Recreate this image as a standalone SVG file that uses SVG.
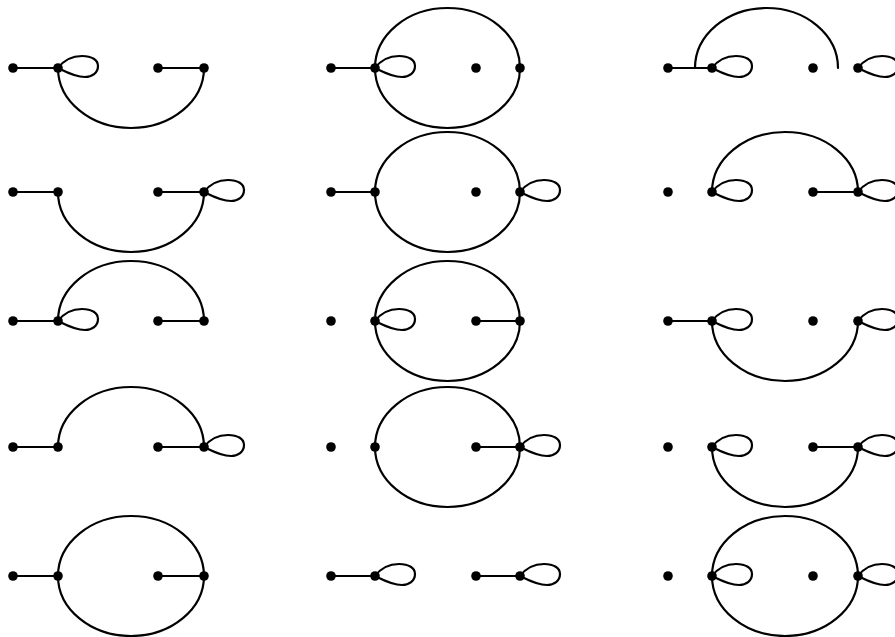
<svg xmlns="http://www.w3.org/2000/svg" width="895" height="637" viewBox="0 0 895 637">
<style>
.e{fill:none;stroke:#000;stroke-width:2.2;stroke-linecap:round}
.n{fill:#000}
</style>
<defs>
<path id="loop" class="e" d="M0,0 C6,-8 14,-12 24,-12 C34,-12 40,-8 40,-2 C40,5 34,9 27,9 C17,9 8,4 0,0 Z"/>
<circle id="dot" class="n" r="4.8"/>
</defs>
<rect width="895" height="637" fill="#fff"/>
<g id="connectors">
<!-- row 1 -->
<g id="c-r1c1">
<path class="e" d="M13,68 H58 M158,68 H204"/>
<use href="#loop" x="58" y="68"/>
<path class="e" d="M58,68 A73,60 0 0 0 204,68"/>
</g>
<g id="c-r1c2">
<path class="e" d="M331,68 H375"/>
<use href="#loop" x="375" y="68"/>
<ellipse class="e" cx="447.5" cy="68" rx="72.5" ry="60"/>
</g>
<g id="c-r1c3">
<path class="e" d="M668,68 H712"/>
<use href="#loop" x="712" y="68"/>
<path class="e" d="M695,68 A71.5,60 0 0 1 838,68"/>
<use href="#loop" x="858" y="68"/>
</g>
<!-- row 2 -->
<g id="c-r2c1">
<path class="e" d="M13,192 H58 M158,192 H204"/>
<use href="#loop" x="204" y="192"/>
<path class="e" d="M58,192 A73,60 0 0 0 204,192"/>
</g>
<g id="c-r2c2">
<path class="e" d="M331,192 H375"/>
<ellipse class="e" cx="447.5" cy="192" rx="72.5" ry="60"/>
<use href="#loop" x="520" y="192"/>
</g>
<g id="c-r2c3">
<use href="#loop" x="712" y="192"/>
<path class="e" d="M712,192 A73,60 0 0 1 858,192"/>
<path class="e" d="M813,192 H858"/>
<use href="#loop" x="858" y="192"/>
</g>
<!-- row 3 -->
<g id="c-r3c1">
<path class="e" d="M13,321 H58 M158,321 H204"/>
<use href="#loop" x="58" y="321"/>
<path class="e" d="M58,321 A73,60 0 0 1 204,321"/>
</g>
<g id="c-r3c2">
<use href="#loop" x="375" y="321"/>
<ellipse class="e" cx="447.5" cy="321" rx="72.5" ry="60"/>
<path class="e" d="M476,321 H520"/>
</g>
<g id="c-r3c3">
<path class="e" d="M668,321 H712"/>
<use href="#loop" x="712" y="321"/>
<path class="e" d="M712,321 A73,60 0 0 0 858,321"/>
<use href="#loop" x="858" y="321"/>
</g>
<!-- row 4 -->
<g id="c-r4c1">
<path class="e" d="M13,447 H58 M158,447 H204"/>
<path class="e" d="M58,447 A73,60 0 0 1 204,447"/>
<use href="#loop" x="204" y="447"/>
</g>
<g id="c-r4c2">
<ellipse class="e" cx="447.5" cy="447" rx="72.5" ry="60"/>
<path class="e" d="M476,447 H520"/>
<use href="#loop" x="520" y="447"/>
</g>
<g id="c-r4c3">
<use href="#loop" x="712" y="447"/>
<path class="e" d="M712,447 A73,60 0 0 0 858,447"/>
<path class="e" d="M813,447 H858"/>
<use href="#loop" x="858" y="447"/>
</g>
<!-- row 5 -->
<g id="c-r5c1">
<path class="e" d="M13,576 H58 M158,576 H204"/>
<ellipse class="e" cx="131" cy="576" rx="73" ry="60"/>
</g>
<g id="c-r5c2">
<path class="e" d="M331,576 H375 M476,576 H520"/>
<use href="#loop" x="375" y="576"/>
<use href="#loop" x="520" y="576"/>
</g>
<g id="c-r5c3">
<use href="#loop" x="712" y="576"/>
<ellipse class="e" cx="785" cy="576" rx="73" ry="60"/>
<use href="#loop" x="858" y="576"/>
</g>
</g>
<g id="nodes">
<g id="n-r1c1-a"><use href="#dot" x="13" y="68"/></g>
<g id="n-r1c1-b"><use href="#dot" x="58" y="68"/></g>
<g id="n-r1c1-c"><use href="#dot" x="158" y="68"/></g>
<g id="n-r1c1-d"><use href="#dot" x="204" y="68"/></g>
<g id="n-r1c2-a"><use href="#dot" x="331" y="68"/></g>
<g id="n-r1c2-b"><use href="#dot" x="375" y="68"/></g>
<g id="n-r1c2-c"><use href="#dot" x="476" y="68"/></g>
<g id="n-r1c2-d"><use href="#dot" x="520" y="68"/></g>
<g id="n-r1c3-a"><use href="#dot" x="668" y="68"/></g>
<g id="n-r1c3-b"><use href="#dot" x="712" y="68"/></g>
<g id="n-r1c3-c"><use href="#dot" x="813" y="68"/></g>
<g id="n-r1c3-d"><use href="#dot" x="858" y="68"/></g>
<g id="n-r2c1-a"><use href="#dot" x="13" y="192"/></g>
<g id="n-r2c1-b"><use href="#dot" x="58" y="192"/></g>
<g id="n-r2c1-c"><use href="#dot" x="158" y="192"/></g>
<g id="n-r2c1-d"><use href="#dot" x="204" y="192"/></g>
<g id="n-r2c2-a"><use href="#dot" x="331" y="192"/></g>
<g id="n-r2c2-b"><use href="#dot" x="375" y="192"/></g>
<g id="n-r2c2-c"><use href="#dot" x="476" y="192"/></g>
<g id="n-r2c2-d"><use href="#dot" x="520" y="192"/></g>
<g id="n-r2c3-a"><use href="#dot" x="668" y="192"/></g>
<g id="n-r2c3-b"><use href="#dot" x="712" y="192"/></g>
<g id="n-r2c3-c"><use href="#dot" x="813" y="192"/></g>
<g id="n-r2c3-d"><use href="#dot" x="858" y="192"/></g>
<g id="n-r3c1-a"><use href="#dot" x="13" y="321"/></g>
<g id="n-r3c1-b"><use href="#dot" x="58" y="321"/></g>
<g id="n-r3c1-c"><use href="#dot" x="158" y="321"/></g>
<g id="n-r3c1-d"><use href="#dot" x="204" y="321"/></g>
<g id="n-r3c2-a"><use href="#dot" x="331" y="321"/></g>
<g id="n-r3c2-b"><use href="#dot" x="375" y="321"/></g>
<g id="n-r3c2-c"><use href="#dot" x="476" y="321"/></g>
<g id="n-r3c2-d"><use href="#dot" x="520" y="321"/></g>
<g id="n-r3c3-a"><use href="#dot" x="668" y="321"/></g>
<g id="n-r3c3-b"><use href="#dot" x="712" y="321"/></g>
<g id="n-r3c3-c"><use href="#dot" x="813" y="321"/></g>
<g id="n-r3c3-d"><use href="#dot" x="858" y="321"/></g>
<g id="n-r4c1-a"><use href="#dot" x="13" y="447"/></g>
<g id="n-r4c1-b"><use href="#dot" x="58" y="447"/></g>
<g id="n-r4c1-c"><use href="#dot" x="158" y="447"/></g>
<g id="n-r4c1-d"><use href="#dot" x="204" y="447"/></g>
<g id="n-r4c2-a"><use href="#dot" x="331" y="447"/></g>
<g id="n-r4c2-b"><use href="#dot" x="375" y="447"/></g>
<g id="n-r4c2-c"><use href="#dot" x="476" y="447"/></g>
<g id="n-r4c2-d"><use href="#dot" x="520" y="447"/></g>
<g id="n-r4c3-a"><use href="#dot" x="668" y="447"/></g>
<g id="n-r4c3-b"><use href="#dot" x="712" y="447"/></g>
<g id="n-r4c3-c"><use href="#dot" x="813" y="447"/></g>
<g id="n-r4c3-d"><use href="#dot" x="858" y="447"/></g>
<g id="n-r5c1-a"><use href="#dot" x="13" y="576"/></g>
<g id="n-r5c1-b"><use href="#dot" x="58" y="576"/></g>
<g id="n-r5c1-c"><use href="#dot" x="158" y="576"/></g>
<g id="n-r5c1-d"><use href="#dot" x="204" y="576"/></g>
<g id="n-r5c2-a"><use href="#dot" x="331" y="576"/></g>
<g id="n-r5c2-b"><use href="#dot" x="375" y="576"/></g>
<g id="n-r5c2-c"><use href="#dot" x="476" y="576"/></g>
<g id="n-r5c2-d"><use href="#dot" x="520" y="576"/></g>
<g id="n-r5c3-a"><use href="#dot" x="668" y="576"/></g>
<g id="n-r5c3-b"><use href="#dot" x="712" y="576"/></g>
<g id="n-r5c3-c"><use href="#dot" x="813" y="576"/></g>
<g id="n-r5c3-d"><use href="#dot" x="858" y="576"/></g>
</g>
</svg>
